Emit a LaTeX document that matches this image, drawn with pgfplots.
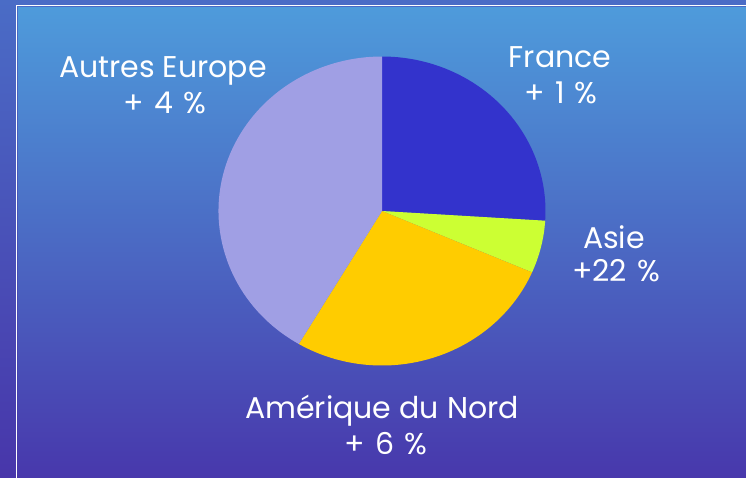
\documentclass[border=0pt]{standalone}
\usepackage{pgfplots}
\usepackage{pgfplotstable}
\pgfplotsset{compat=1.18}
\usepackage{fontspec}
\setmainfont{Poppins}
\definecolor{franceC}{HTML}{3333CC}
\definecolor{asieC}{HTML}{CCFF33}
\definecolor{ameriqueC}{HTML}{FFCC00}
\definecolor{europeC}{HTML}{A09FE4}
\definecolor{outerTop}{HTML}{4A6CC6}
\definecolor{outerMid}{HTML}{4840AE}
\definecolor{outerBot}{HTML}{4836AA}
\definecolor{innerTop}{HTML}{4E9BDB}
\definecolor{innerMid}{HTML}{4A72C6}
\definecolor{innerBot}{HTML}{4838AC}

\pgfplotstableread{
region value
France 26
Asie 5.5
Amerique 27
Europe 41.5
}\piedata

\begin{document}
\begin{tikzpicture}[x=1pt,y=1pt]
\useasboundingbox (0,0) rectangle (746,-477);
\shade[top color=outerTop, middle color=outerMid, bottom color=outerBot] (0,0) rectangle (746,-477);
\shade[top color=innerTop, middle color=innerMid, bottom color=innerBot] (18,-7) rectangle (746,-477);
\draw[white, line width=1.6pt] (16.5,-490) -- (16.5,-5.5) -- (760,-5.5);

\pgfplotstablegetelem{0}{value}\of\piedata \let\vA\pgfplotsretval
\pgfplotstablegetelem{1}{value}\of\piedata \let\vB\pgfplotsretval
\pgfplotstablegetelem{2}{value}\of\piedata \let\vC\pgfplotsretval
\pgfplotstablegetelem{3}{value}\of\piedata \let\vD\pgfplotsretval
\pgfmathsetmacro\aO{90}
\pgfmathsetmacro\aI{\aO-3.6*\vA}
\pgfmathsetmacro\aII{\aI-3.6*\vB}
\pgfmathsetmacro\aIII{\aII-3.6*\vC}
\pgfmathsetmacro\aIV{\aIII-3.6*\vD}

\begin{axis}[at={(382pt,-211pt)}, anchor=origin, x=163.5pt, y=154.5pt,
  xmin=-1, xmax=1, ymin=-1, ymax=1, hide axis, clip=false]
\fill[franceC] (axis cs:0,0) -- (axis cs:{cos(\aO)},{sin(\aO)}) arc[start angle=\aO, end angle=\aI, x radius=163.5pt, y radius=154.5pt] -- cycle;
\fill[asieC] (axis cs:0,0) -- (axis cs:{cos(\aI)},{sin(\aI)}) arc[start angle=\aI, end angle=\aII, x radius=163.5pt, y radius=154.5pt] -- cycle;
\fill[ameriqueC] (axis cs:0,0) -- (axis cs:{cos(\aII)},{sin(\aII)}) arc[start angle=\aII, end angle=\aIII, x radius=163.5pt, y radius=154.5pt] -- cycle;
\fill[europeC] (axis cs:0,0) -- (axis cs:{cos(\aIII)},{sin(\aIII)}) arc[start angle=\aIII, end angle=\aIV, x radius=163.5pt, y radius=154.5pt] -- cycle;
\end{axis}

\tikzset{lab/.style={text=white, anchor=base, inner sep=0pt, font=\fontsize{30}{36}\selectfont}}
\node[lab] at (163,-77) {Autres Europe};
\node[lab] at (165,-113) {+\,\,4\,\,\%};
\node[lab] at (560,-67.5) {France};
\node[lab] at (561,-103) {+\,\,1\,\,\%};
\node[lab] at (614,-248) {Asie};
\node[lab] at (616,-281.5) {+22\,\,\%};
\node[lab] at (382,-418.5) {Amérique du Nord};
\node[lab] at (386,-454) {+\,\,6\,\,\%};
\end{tikzpicture}
\end{document}
